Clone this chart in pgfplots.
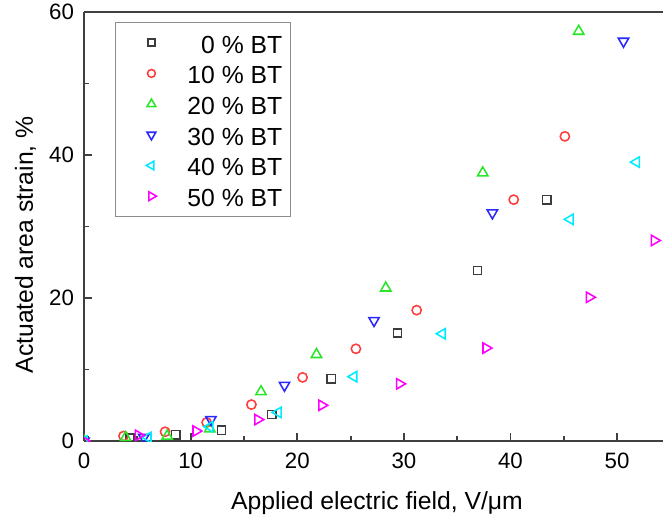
\documentclass[border=0pt]{standalone}
\usepackage{fontspec}
\setmainfont{Liberation Sans}
\usepackage{pgfplots}
\pgfplotsset{compat=1.18}

\definecolor{cBlack}{RGB}{60,60,60}
\definecolor{cRed}{RGB}{255,60,60}
\definecolor{cGreen}{RGB}{40,230,40}
\definecolor{cBlue}{RGB}{40,40,255}
\definecolor{cCyan}{RGB}{0,235,255}
\definecolor{cMagenta}{RGB}{255,0,255}

\begin{document}
\begin{tikzpicture}
\begin{axis}[
  name=ax,
  scale only axis, width=281pt, height=208.3pt,
  xmin=0, xmax=54.3, ymin=0, ymax=60,
  axis x line=box, axis y line*=left,
  x axis line style={-}, y axis line style={-},
  axis line style={line width=1pt, black!75},
  xtick={0,10,...,50}, ytick={0,20,40,60},
  minor x tick num=1, minor y tick num=1,
  tick align=inside, xtick pos=left, ytick pos=left,
  major tick length=4pt, minor tick length=2.4pt,
  tick style={line width=0.9pt, black!75},
  /pgf/number format/assume math mode=true,
  tick label style={font=\fontsize{10.8}{12}\selectfont},
  xticklabel style={yshift=-2.4pt},
  yticklabel style={xshift=-1.4pt},
  label style={font=\fontsize{12}{14}\selectfont},
  xlabel={Applied electric field, V/μm},
  xlabel style={at={(axis description cs:0.506,-0.1585)}, anchor=base},
  ylabel={Actuated area strain, \%},
  ylabel style={at={(axis description cs:-0.0883,0.457)}, anchor=base},
  clip marker paths=true,
  legend cell align=right,
  legend style={at={(0.0535,0.977)}, anchor=north west, draw=black!45,
    line width=0.6pt, font=\fontsize{12}{14}\selectfont,
    nodes={inner sep=0pt, text height=10.5pt, text depth=0.5pt},
    row sep=3.9pt, column sep=0pt, inner xsep=3.9pt, inner ysep=4.35pt},
  legend image code/.code={\draw[#1, every mark/.append style={scale=0.85}] plot coordinates {(13.1pt,0pt)};\path (0pt,0pt) (30.2pt,0pt);},
]
\addplot[only marks, mark=square, mark size=2.0pt, cBlack, line width=0.75pt] coordinates {
(0,0)(4.3,0.4)(8.6,0.9)(12.9,1.5)(17.6,3.7)(23.2,8.7)(29.4,15.1)(36.9,23.85)(43.4,33.75)
};
\addlegendentry{0 \% BT}
\addplot[only marks, mark=o, mark size=2.25pt, cRed, line width=0.75pt] coordinates {
(0,0)(3.7,0.7)(7.6,1.3)(11.5,2.6)(15.7,5.1)(20.5,8.9)(25.5,12.9)(31.2,18.3)(40.3,33.75)(45.1,42.6)
};
\addlegendentry{10 \% BT}
\addplot[only marks, mark=triangle, mark size=2.9pt, cGreen, line width=0.75pt] coordinates {
(0,0)(3.9,0.5)(7.8,0.7)(11.8,1.7)(16.6,6.9)(21.8,12.1)(28.3,21.4)(37.4,37.5)(46.4,57.3)
};
\addlegendentry{20 \% BT}
\addplot[only marks, mark=triangle, mark size=2.9pt, cBlue, line width=0.75pt,
  mark options={rotate=180}] coordinates {
(0,0)(5.6,0.5)(11.9,3.0)(18.8,7.8)(27.2,16.85)(38.3,31.9)(50.6,55.9)
};
\addlegendentry{30 \% BT}
\addplot[only marks, mark=triangle, mark size=2.9pt, cCyan, line width=0.75pt,
  mark options={rotate=90}] coordinates {
(0,0)(6.0,0.5)(11.8,2.0)(18.2,4.0)(25.3,9.0)(33.6,15.0)(45.6,31.0)(51.8,39.0)
};
\addlegendentry{40 \% BT}
\addplot[only marks, mark=triangle, mark size=2.9pt, cMagenta, line width=0.75pt,
  mark options={rotate=-90}] coordinates {
(0,0)(5.1,0.8)(10.5,1.4)(16.3,3.0)(22.3,5.0)(29.6,8.0)(37.7,13.0)(47.4,20.1)(53.5,28.05)
};
\addlegendentry{50 \% BT}
\end{axis}
\pgfresetboundingbox
\useasboundingbox ([xshift=-40.8pt,yshift=-36.9pt]ax.south west) rectangle ([xshift=1pt,yshift=5.8pt]ax.north east);
\end{tikzpicture}
\end{document}
